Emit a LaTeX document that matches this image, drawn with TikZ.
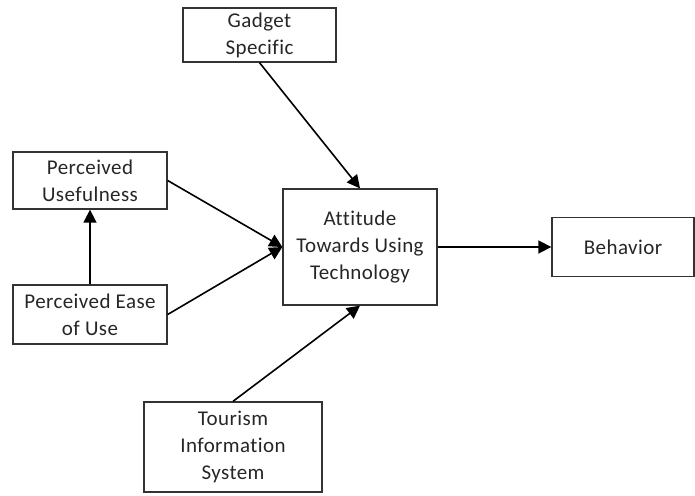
\documentclass[tikz,border=0pt]{standalone}
\usepackage{fontspec}
\setmainfont{Carlito}[Ligatures=NoCommon, LetterSpace=2]
\usetikzlibrary{arrows.meta}
\tikzset{
  box/.style={draw=black!80, line width=1.3pt, align=center, inner sep=0pt,
    text=black!85, font=\fontsize{21}{27}\selectfont},
  link/.style={line width=1.6pt, -{Triangle[length=13pt,width=13pt]}}
}
\begin{document}
\begin{tikzpicture}[x=1pt,y=-1pt]
\useasboundingbox (0,0) rectangle (695,495);
%top and left boxes
\node[box, minimum width=153pt, minimum height=54pt] at (259.5,35) (gs) {Gadget\\Specific};
\node[box, minimum width=154pt, minimum height=57pt] at (90,180.5) (pu) {Perceived\\Usefulness};
\node[box, minimum width=154pt, minimum height=59pt] at (90,314.5) (peu) {Perceived Ease\\of Use};
%middle and right
\node[box, minimum width=154pt, minimum height=116pt] at (360,247) (att) {Attitude\\Towards Using\\Technology};
\node[box, minimum width=142pt, minimum height=59pt] at (623,247) (beh) {Behavior};
%bottom
\node[box, minimum width=178pt, minimum height=90pt] at (233,447) (tis) {Tourism\\Information\\System};
\draw[link] (peu.north) -- (pu.south);
\draw[link] (pu.east) -- (att.west);
\draw[link] (peu.east) -- (att.west);
\draw[link] (gs.south) -- (att.north);
\draw[link] (tis.north) -- (att.south);
\draw[link] (att.east) -- (beh.west);
\end{tikzpicture}
\end{document}
